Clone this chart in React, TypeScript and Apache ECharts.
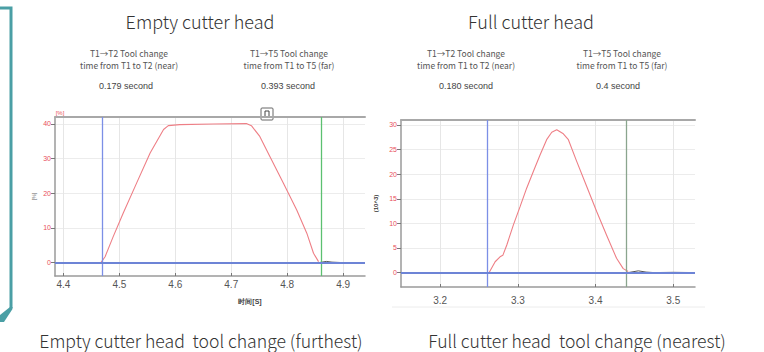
import React, { useEffect, useRef } from "react";
import * as echarts from "echarts";

// ---- data ----
const leftTime = [4.467, 4.4745, 4.489, 4.507, 4.531, 4.555, 4.579, 4.5875, 4.608, 4.668, 4.727, 4.736, 4.751, 4.769, 4.793, 4.817, 4.835, 4.847, 4.856];
const leftValue = [0, 1.7, 7.5, 14.3, 23, 31.6, 38.4, 39.5, 39.8, 40, 40.1, 39.5, 36.4, 30.6, 23, 15.2, 8.5, 2.7, 0.3];
const leftBaseTime = [4.385, 4.43, 4.466, 4.856, 4.87, 4.88, 4.9, 4.939];
const leftBaseValue = [0, 0, 0, 0, 0.35, 0.15, 0, 0];
const leftCursors = [4.467, 4.857];
const leftXRange = [4.385, 4.939];
const leftYRange = [-3.85, 42];

const rightTime = [3.263, 3.2707, 3.277, 3.2806, 3.2857, 3.2942, 3.3028, 3.3114, 3.32, 3.3285, 3.337, 3.3436, 3.35, 3.3585, 3.365, 3.3757, 3.3886, 3.4014, 3.4142, 3.427, 3.4356, 3.442];
const rightValue = [0, 2.2, 3.2, 3.5, 5.6, 9.7, 13.4, 17.2, 20.6, 23.9, 27, 28.5, 29.0, 28.2, 27, 22.6, 17.5, 12.4, 7.6, 2.9, 0.8, 0.2];
const rightBaseTime = [3.1495, 3.21, 3.22, 3.23, 3.263, 3.442, 3.455, 3.465, 3.475, 3.5, 3.528];
const rightBaseValue = [0, 0, -0.1, 0, 0, 0, 0.35, 0.1, 0, 0.05, 0];
const rightCursors = [3.263, 3.442];
const rightXRange = [3.1495, 3.528];
const rightYRange = [-2.93, 31];

const titles = ["Empty cutter head", "Full cutter head"];
const changeLabels = [
  ["T1→T2 Tool change", "time from T1 to T2 (near)"],
  ["T1→T5 Tool change", "time from T1 to T5 (far)"],
];
const leftTimes = ["0.179 second", "0.393 second"];
const rightTimes = ["0.180 second", "0.4 second"];
const captions = ["Empty cutter head  tool change (furthest)", "Full cutter head  tool change (nearest)"];

const FONT = "'Noto Sans CJK SC', 'Noto Sans', sans-serif";
const RED = "#ee7f86";

function zip(xs: number[], ys: number[]) {
  return xs.map((x, i) => [x, ys[i]]);
}

function xAxes(gi: number, range: number[], split: number, name: string, labelMargin: number) {
  return [
    {
      gridIndex: gi,
      type: "value",
      min: range[0],
      max: range[1],
      splitNumber: split,
      name,
      nameLocation: "middle",
      nameGap: 22,
      nameTextStyle: { fontSize: 7, fontWeight: "bold", color: "#444", padding: [0, 0, 0, 80] },
      axisLine: { onZero: false, lineStyle: { color: "#9a9a9a", width: 1.5 } },
      axisTick: { show: true, inside: true, length: 3, lineStyle: { color: "#777" } },
      axisLabel: { color: "#555", fontSize: 10, fontFamily: "Liberation Sans", margin: labelMargin, showMinLabel: false, showMaxLabel: false },
      splitLine: { show: true, showMinLine: false, showMaxLine: false, lineStyle: { color: "#e6e6e6", width: 1 } },
    },
    {
      gridIndex: gi,
      type: "value",
      position: "top",
      min: range[0],
      max: range[1],
      axisLine: { show: true, onZero: false, lineStyle: { color: "#a8a8a8", width: 2 } },
      axisTick: { show: false },
      axisLabel: { show: false },
      splitLine: { show: false },
    },
  ];
}

function yAxis(gi: number, range: number[], split: number, name: string, gap: number, nameStyle: any) {
  return {
    gridIndex: gi,
    type: "value",
    min: range[0],
    max: range[1],
    splitNumber: split,
    name,
    nameLocation: "middle",
    nameRotate: 90,
    nameGap: gap,
    nameTextStyle: nameStyle,
    axisLine: { show: true, onZero: false, lineStyle: { color: "#9a9a9a", width: 1.5 } },
    axisTick: { show: true, length: 4, lineStyle: { color: "#777" } },
    axisLabel: { color: "#e8505b", fontSize: 7, fontFamily: "Liberation Sans", margin: 4, showMinLabel: false, showMaxLabel: false },
    splitLine: { show: true, showMinLine: false, showMaxLine: false, lineStyle: { color: "#ececec", width: 1 } },
  };
}

function texts() {
  const g: any[] = [];
  const t = (text: string, x: number, y: number, size: number, color: string, family = FONT, weight: any = "normal", align = "center") =>
    g.push({ type: "text", x, y, silent: true, style: { text, fontSize: size, fontFamily: family, fontWeight: weight, fill: color, textAlign: align, textVerticalAlign: "middle" } });
  t(titles[0], 200, 21, 18, "#333", FONT, 300);
  t(titles[1], 531, 21, 18, "#333", FONT, 300);
  const cols = [129, 289, 466, 622];
  cols.forEach((cx) => {
    const idx = cx === 129 || cx === 466 ? 0 : 1;
    t(changeLabels[idx][0], cx, 53, 8.5, "#555");
    t(changeLabels[idx][1], cx, 65, 8.5, "#555");
  });
  const nf = "Liberation Sans Narrow, Liberation Sans";
  t(leftTimes[0], 126, 86, 9, "#444", nf);
  t(leftTimes[1], 288, 86, 9, "#444", nf);
  t(rightTimes[0], 466, 86, 9, "#444", nf);
  t(rightTimes[1], 618, 86, 9, "#444", nf);
  t(captions[0], 201, 340, 17.6, "#333", FONT, 300);
  t(captions[1], 577, 340, 17.6, "#333", FONT, 300);
  t("[%]", 60, 113, 6, "#e8505b", "Liberation Sans");
  // small legend box
  g.push({ type: "rect", shape: { x: 261, y: 108, width: 12, height: 12, r: 1 }, style: { fill: "#fff", stroke: "#666", lineWidth: 1 } });
  g.push({ type: "rect", shape: { x: 265, y: 111, width: 4, height: 6 }, style: { fill: "#fff", stroke: "#444", lineWidth: 1 } });
  // faint rule under right chart
  g.push({ type: "line", shape: { x1: 392, y1: 307, x2: 705, y2: 307 }, style: { stroke: "#ececec", lineWidth: 1 } });
  // teal bracket
  g.push({ type: "polyline", shape: { points: [[0, 8], [11, 8], [11, 308]] }, style: { stroke: "#4a9fa5", lineWidth: 3, fill: null } });
  g.push({ type: "polygon", shape: { points: [[0, 315], [10, 307], [12.5, 307], [12.5, 309], [4, 322], [0, 322]] }, style: { fill: "#4a9fa5" } });
  return g;
}

function cursorLine(values: number[], colors: string[], blue: string) {
  return {
    symbol: "none",
    silent: true,
    animation: false,
    label: { show: false },
    data: [
      { xAxis: values[0], lineStyle: { color: colors[0], width: 1.3, type: "solid" } },
      { xAxis: values[1], lineStyle: { color: colors[1], width: 1.3, type: "solid" } },
      { yAxis: 0, lineStyle: { color: blue, width: 2, type: "solid" } },
    ],
  };
}

export default function App() {
  const ref = useRef<HTMLDivElement>(null);
  useEffect(() => {
    if (!ref.current) return;
    const chart = echarts.init(ref.current, null, { renderer: "svg" });
    chart.setOption({
      animation: false,
      backgroundColor: "#fff",
      grid: [
        { left: 55, top: 117, width: 310, height: 159 },
        { left: 401, top: 120, width: 294, height: 167 },
      ],
      xAxis: [...xAxes(0, leftXRange, 5, "时间[S]", 3), ...xAxes(1, rightXRange, 4, "", 8)],
      yAxis: [
        yAxis(0, leftYRange, 5, "[%]", 19, { fontSize: 5, color: "#666" }),
        yAxis(1, rightYRange, 7, "(10^3)", 22, { fontSize: 6, fontWeight: "bold", color: "#333" }),
      ],
      graphic: texts(),
      series: [
        {
          type: "line", xAxisIndex: 0, yAxisIndex: 0, data: zip(leftTime, leftValue),
          showSymbol: false, lineStyle: { color: RED, width: 1.1 }, z: 3,
          markLine: cursorLine(leftCursors, ["#7c8fe6", "#5cc070"], "#6d84d6"),
        },
        {
          type: "line", xAxisIndex: 0, yAxisIndex: 0, data: zip(leftBaseTime, leftBaseValue),
          showSymbol: false, lineStyle: { color: "#555", width: 1 }, z: 4,
        },
        {
          type: "line", xAxisIndex: 2, yAxisIndex: 1, data: zip(rightTime, rightValue),
          showSymbol: false, lineStyle: { color: RED, width: 1.1 }, z: 3,
          markLine: cursorLine(rightCursors, ["#7c8fe6", "#8aa58e"], "#6d84d6"),
        },
        {
          type: "line", xAxisIndex: 2, yAxisIndex: 1, data: zip(rightBaseTime, rightBaseValue),
          showSymbol: false, lineStyle: { color: "#555", width: 1 }, z: 4,
        },
      ],
    });
    return () => chart.dispose();
  }, []);
  return <div ref={ref} style={{ position: "fixed", left: 0, top: 0, width: 764, height: 352, background: "#fff" }} />;
}
